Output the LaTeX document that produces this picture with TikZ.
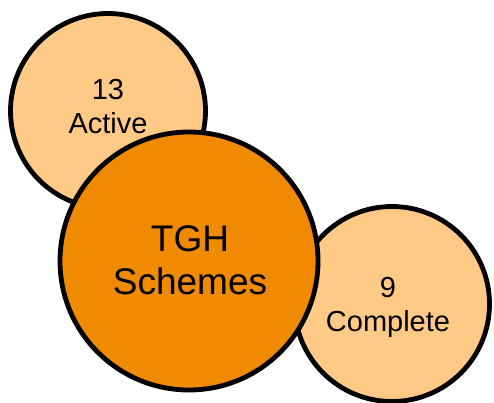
\documentclass[tikz,border=0pt]{standalone}
\usepackage{fontspec}
\setmainfont{Liberation Sans}
\definecolor{lightorange}{HTML}{FFCA86}
\definecolor{darkorange}{HTML}{F08A00}
\tikzset{
  bubble/.style={circle, draw=black, line width=4.8pt, inner sep=0pt},
  smalltext/.style={align=center, font=\fontsize{29}{34}\selectfont},
  bigtext/.style={align=center, font=\fontsize{37}{43}\selectfont}
}
\begin{document}
\begin{tikzpicture}[x=1pt, y=-1pt]
  \useasboundingbox (0,0) rectangle (494,403);
  % satellite bubbles
  \node[bubble, fill=lightorange, minimum size=195pt] (active) at (108,111) {};
  \node[bubble, fill=lightorange, minimum size=195pt] (complete) at (392,304) {};
  % central bubble
  \node[bubble, fill=darkorange, minimum size=258pt] (tgh) at (189,261) {};
  % labels
  \node[smalltext] (activetext) at (108,107) {13\\Active};
  \node[smalltext] (completetext) at (388,307) {9\\Complete};
  \node[bigtext] (tghtext) at (190,260) {TGH\\Schemes};
\end{tikzpicture}
\end{document}
